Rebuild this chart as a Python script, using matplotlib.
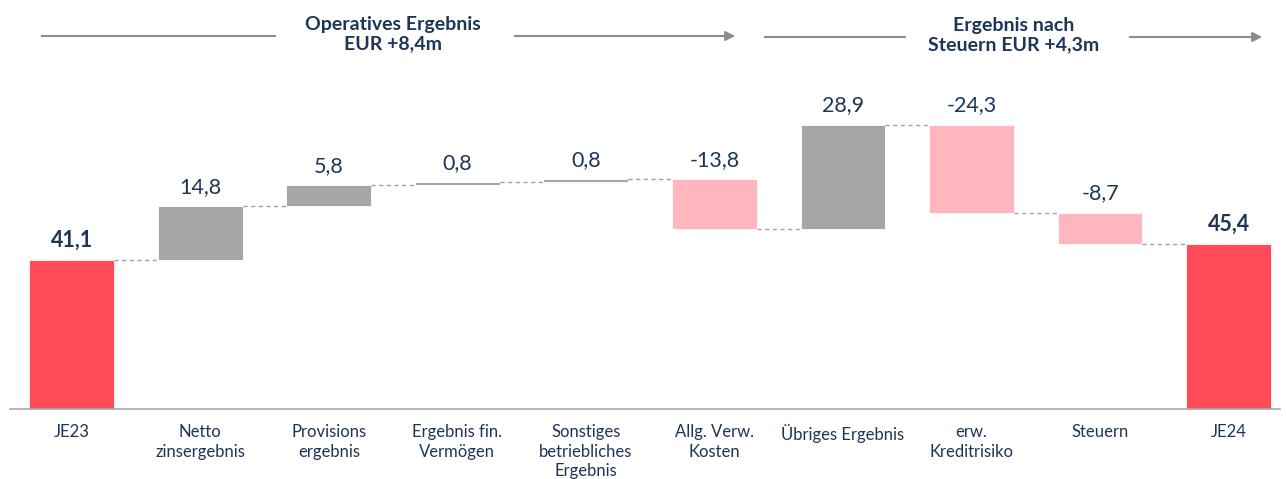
import numpy as np
import matplotlib
import matplotlib.pyplot as plt

matplotlib.use('Agg')
plt.rcParams['font.family'] = ['Lato', 'DejaVu Sans']

# Wasserfall-Daten (EUR m)
categories = ['JE23', 'Netto\nzinsergebnis', 'Provisions\nergebnis', 'Ergebnis fin.\nVermögen',
              'Sonstiges\nbetriebliches\nErgebnis', 'Allg. Verw.\nKosten', 'Übriges Ergebnis',
              'erw.\nKreditrisiko', 'Steuern', 'JE24']
values = [41.1, 14.8, 5.8, 0.8, 0.8, -13.8, 28.9, -24.3, -8.7, 45.4]
is_total = [True, False, False, False, False, False, False, False, False, True]
headers = ['Operatives Ergebnis\nEUR +8,4m', 'Ergebnis nach\nSteuern EUR +4,3m']

navy = '#1d3557'
red = '#ff4b57'
pink = '#ffb6bc'
gray = '#a6a6a6'

fig = plt.figure(figsize=(12.86, 4.79), dpi=100)
ax = fig.add_axes([10 / 1286, 70 / 479, 1270 / 1286, 299 / 479])

x = np.arange(len(values))
w = 0.66
running = 0.0
ends = []
for i, v in enumerate(values):
    if is_total[i]:
        b, h = 0.0, v
        running = v
    else:
        b, h = running, v
        running = running + v
    ends.append(running)
    if is_total[i]:
        col = red
    else:
        col = gray if v > 0 else pink
    ax.bar(x[i], h, bottom=b, width=w, color=col, edgecolor='white', linewidth=0.6)
    lbl = f"{v:.1f}".replace('.', ',')
    ax.text(x[i], max(b, b + h) + 2.6, lbl, ha='center', va='bottom', fontsize=15.5,
            color=navy, fontweight='bold' if is_total[i] else 'normal')

# Verbindungslinien
for i in range(len(values) - 1):
    ax.plot([x[i] + w / 2, x[i + 1] - w / 2], [ends[i], ends[i]], color='#a0a0a0',
            lw=1, ls=(0, (3, 2.5)))

ax.set_xlim(-0.48, 9.4)
ax.set_ylim(0, 82.4)
ax.set_xticks(x)
ax.set_xticklabels(categories, fontsize=12, color=navy, linespacing=1.25)
ax.tick_params(axis='x', length=0, pad=11)
ax.set_yticks([])
for s in ['top', 'right', 'left']:
    ax.spines[s].set_visible(False)
ax.spines['bottom'].set_color('#a8a8b0')
ax.spines['bottom'].set_linewidth(1.2)

# Kopfzeile mit Pfeilen
top = fig.add_axes([0, 0, 1, 1])
top.set_xlim(0, 1286)
top.set_ylim(479, 0)
top.axis('off')
lc = '#8c8c8c'
top.plot([42, 275], [36, 36], color=lc, lw=1.5)
top.annotate('', xy=(738, 36), xytext=(512, 36),
             arrowprops=dict(arrowstyle='-|>', color=lc, lw=1.5, mutation_scale=14))
top.plot([765, 905], [37, 37], color=lc, lw=1.5)
top.annotate('', xy=(1265, 37), xytext=(1127, 37),
             arrowprops=dict(arrowstyle='-|>', color=lc, lw=1.5, mutation_scale=14))
top.text(393, 34, headers[0], ha='center', va='center', fontsize=14, fontweight='bold',
         color=navy, linespacing=1.2)
top.text(1014, 35, headers[1], ha='center', va='center', fontsize=14, fontweight='bold',
         color=navy, linespacing=1.2)

plt.savefig('out.png', dpi=100)
